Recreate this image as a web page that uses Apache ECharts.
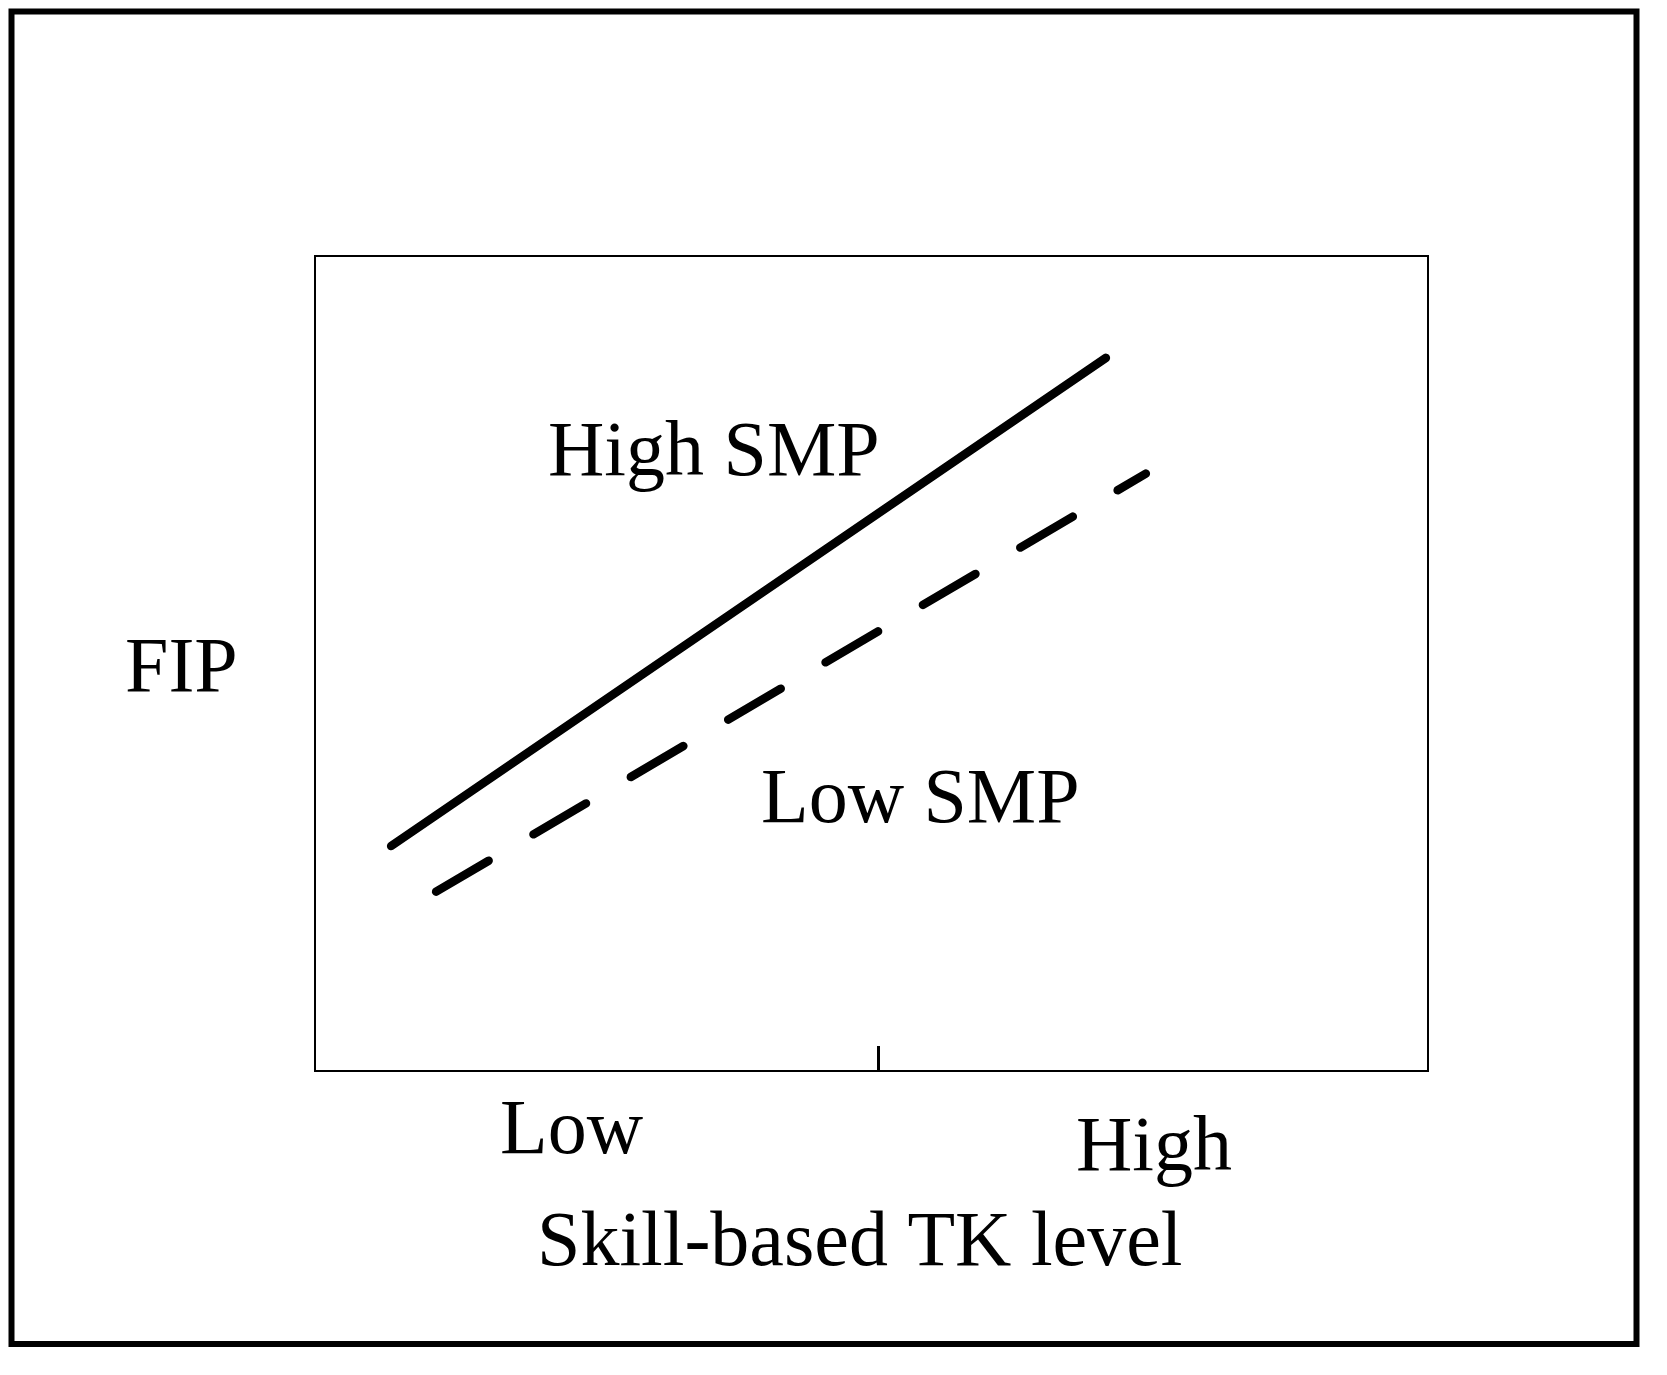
<!DOCTYPE html>
<html>
<head>
<meta charset="utf-8">
<title>FIP</title>
<script src="https://cdn.jsdelivr.net/npm/echarts@6/dist/echarts.min.js"></script>
<style>
    html, body { margin: 0; padding: 0; background: #fff; }
    #graphic-fip { width: 1667px; height: 1375px; }
</style>
</head>
<body>
<div id="graphic-fip"></div>
<script>
// Data (axes run 0..100)
const seriesNames = ['High SMP', 'Low SMP'];
const highSmpX = [6.84, 71.06];
const highSmpY = [27.6, 87.5];
const lowSmpX = [10.88, 74.65];
const lowSmpY = [22.0, 73.3];
const xTickLabels = ['Low', 'High'];
const xAxisName = 'Skill-based TK level';
const yAxisName = 'FIP';
const xTickValues = [50.6]; // single tick on the bottom edge

const FONT = '"Liberation Serif", "Times New Roman", serif';

function toPairs(xs, ys) {
    return xs.map(function(x, i) { return [x, ys[i]]; });
}

function label(text, x, baseline) {
    return {
        type: 'text',
        x: x,
        y: baseline - 20.5,
        silent: true,
        style: {
            text: text,
            fontSize: 78,
            fontFamily: FONT,
            fill: '#000',
            align: 'left',
            verticalAlign: 'middle'
        }
    };
}

const Figure = {
    chart: null,
    option: null,

    init: function() {
        const dom = document.getElementById('graphic-fip');
        this.chart = echarts.init(dom, null, { renderer: 'canvas' });

        this.option = {
            animation: false,
            backgroundColor: '#fff',
            grid: {
                show: true,
                left: 315,
                top: 256,
                right: 239,
                bottom: 304,
                borderColor: '#000',
                borderWidth: 2,
                backgroundColor: 'transparent'
            },
            xAxis: {
                type: 'value',
                min: 0,
                max: 100,
                axisLine: { show: false },
                axisTick: {
                    show: true,
                    inside: true,
                    length: 25,
                    customValues: xTickValues,
                    lineStyle: { color: '#000', width: 3 }
                },
                axisLabel: { show: false },
                splitLine: { show: false }
            },
            yAxis: {
                type: 'value',
                min: 0,
                max: 100,
                axisLine: { show: false },
                axisTick: { show: false },
                axisLabel: { show: false },
                splitLine: { show: false }
            },
            series: [
                {
                    name: seriesNames[0],
                    type: 'line',
                    symbol: 'none',
                    silent: true,
                    lineStyle: { color: '#000', width: 8.5, cap: 'round' },
                    data: toPairs(highSmpX, highSmpY)
                },
                {
                    name: seriesNames[1],
                    type: 'line',
                    symbol: 'none',
                    silent: true,
                    lineStyle: { color: '#000', width: 8.5, cap: 'round', type: [61, 52] },
                    data: toPairs(lowSmpX, lowSmpY)
                }
            ],
            graphic: [
                {
                    type: 'rect',
                    silent: true,
                    shape: { x: 11.5, y: 11.5, width: 1625, height: 1332.5 },
                    style: { fill: 'none', stroke: '#000', lineWidth: 6 }
                },
                label(seriesNames[0], 548, 475),
                label(seriesNames[1], 761, 822),
                label(yAxisName, 125, 691),
                label(xTickLabels[0], 500, 1153),
                label(xTickLabels[1], 1076, 1170),
                label(xAxisName, 537, 1265)
            ]
        };

        this.chart.setOption(this.option);
        window.addEventListener('resize', this.chart.resize);
    }
};

Figure.init();
</script>
</body>
</html>
